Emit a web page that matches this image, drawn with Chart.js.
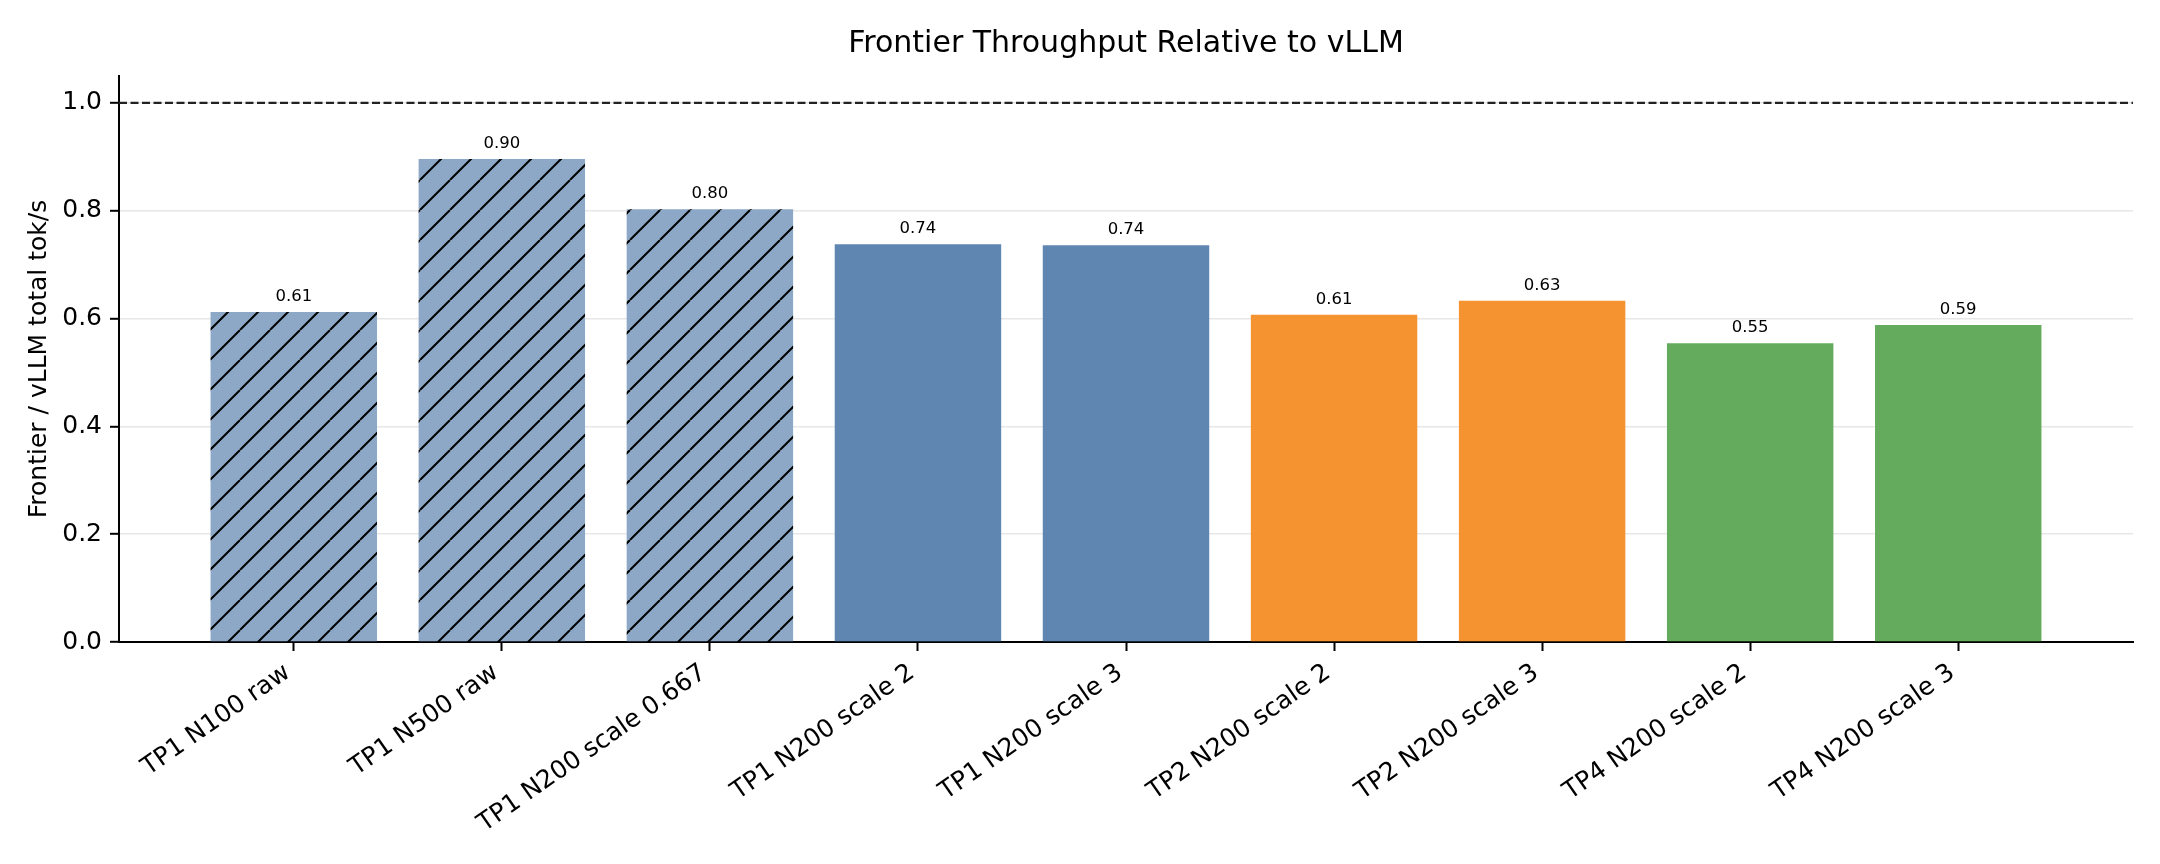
<!DOCTYPE html>
<html lang="en">
<head>
<meta charset="utf-8" />
<title>Frontier Throughput Relative to vLLM</title>
<style>
    body { margin: 0; background: #fff; }
    .wrap { width: 2160px; height: 864px; }
</style>
</head>
<body>
<div class="wrap"><canvas id="chart" width="2160" height="864"></canvas></div>
<script src="https://cdn.jsdelivr.net/npm/chart.js@4.4.1/dist/chart.umd.min.js"></script>
<script>
    const categories = [
        'TP1 N100 raw', 'TP1 N500 raw', 'TP1 N200 scale 0.667',
        'TP1 N200 scale 2', 'TP1 N200 scale 3',
        'TP2 N200 scale 2', 'TP2 N200 scale 3',
        'TP4 N200 scale 2', 'TP4 N200 scale 3'
    ];
    const ratios = [0.612, 0.896, 0.803, 0.738, 0.736, 0.607, 0.633, 0.554, 0.588];
    const barColors = ['#8ca8c6', '#8ca8c6', '#8ca8c6', '#5f86b0', '#5f86b0', '#f59331', '#f59331', '#65ab5d', '#65ab5d'];
    const hatched = [true, true, true, false, false, false, false, false, false];
    const yTicks = [0, 0.2, 0.4, 0.6, 0.8, 1.0];
    const referenceLine = 1.0;

    const FONT = '"DejaVu Sans", sans-serif';
    const canvas = document.getElementById('chart');
    const ctx = canvas.getContext('2d');

    // "/" hatch on top of the bar colour
    function hatchPattern(bg) {
        const c = document.createElement('canvas');
        c.width = 30;
        c.height = 30;
        const g = c.getContext('2d');
        g.fillStyle = bg;
        g.fillRect(0, 0, 30, 30);
        g.strokeStyle = '#000';
        g.lineWidth = 2;
        g.beginPath();
        for (const k of [-30, 0, 30]) {
            g.moveTo(k, 30);
            g.lineTo(k + 30, 0);
        }
        g.stroke();
        return ctx.createPattern(c, 'repeat');
    }

    const fills = barColors.map((col, i) => hatched[i] ? hatchPattern(col) : col);

    const annotate = {
        id: 'annotate',
        afterDraw(chart) {
            const { ctx, chartArea, scales } = chart;
            const yRef = scales.y.getPixelForValue(referenceLine);
            ctx.save();
            ctx.strokeStyle = '#222';
            ctx.lineWidth = 2.2;
            ctx.setLineDash([8, 3.5]);
            ctx.beginPath();
            ctx.moveTo(chartArea.left, yRef);
            ctx.lineTo(chartArea.right, yRef);
            ctx.stroke();
            ctx.setLineDash([]);
            ctx.font = '16.5px ' + FONT;
            ctx.fillStyle = '#000';
            ctx.textAlign = 'center';
            ctx.textBaseline = 'alphabetic';
            chart.getDatasetMeta(0).data.forEach((bar, i) => {
                ctx.fillText(ratios[i].toFixed(2), bar.x, bar.y - 11);
            });
            ctx.restore();
        }
    };

    new Chart(canvas, {
        type: 'bar',
        data: {
            datasets: [{
                data: ratios.map((v, i) => ({ x: i, y: v })),
                backgroundColor: fills,
                borderWidth: 0,
                categoryPercentage: 1.0,
                barPercentage: 0.8
            }]
        },
        options: {
            responsive: false,
            devicePixelRatio: 1,
            animation: false,
            layout: { padding: { left: 0, right: 27, top: 0, bottom: 0 } },
            plugins: {
                legend: { display: false },
                tooltip: { enabled: false },
                title: {
                    display: true,
                    fullSize: false,
                    text: 'Frontier Throughput Relative to vLLM',
                    color: '#000',
                    font: { family: FONT, size: 30, weight: 'normal' },
                    padding: { top: 26, bottom: 14 }
                }
            },
            scales: {
                x: {
                    type: 'linear',
                    min: -0.84,
                    max: 8.84,
                    offset: false,
                    afterBuildTicks: s => { s.ticks = categories.map((_, i) => ({ value: i })); },
                    afterFit: s => { s.height = 222; },
                    ticks: {
                        autoSkip: false,
                        minRotation: 35,
                        maxRotation: 35,
                        padding: 7,
                        labelOffset: -6,
                        color: '#000',
                        font: { family: FONT, size: 25 },
                        callback: v => categories[v] ?? ''
                    },
                    grid: {
                        offset: false,
                        drawOnChartArea: false,
                        drawTicks: true,
                        tickLength: 9,
                        tickWidth: 2,
                        tickColor: '#000'
                    },
                    border: { color: '#000', width: 2 }
                },
                y: {
                    min: 0,
                    max: 1.05,
                    z: 1,
                    afterBuildTicks: s => { s.ticks = yTicks.map(v => ({ value: v })); },
                    afterFit: s => { s.width = 119; },
                    ticks: {
                        padding: 8,
                        color: '#000',
                        font: { family: FONT, size: 25 },
                        callback: v => v.toFixed(1)
                    },
                    grid: {
                        color: 'rgba(176,176,176,0.3)',
                        lineWidth: 1.6,
                        tickLength: 9,
                        tickWidth: 2,
                        tickColor: '#000'
                    },
                    border: { color: '#000', width: 2 },
                    title: {
                        display: true,
                        text: 'Frontier / vLLM total tok/s',
                        color: '#000',
                        font: { family: FONT, size: 25 },
                        padding: { top: 24, bottom: 0 }
                    }
                }
            }
        },
        plugins: [annotate]
    });
</script>
</body>
</html>
